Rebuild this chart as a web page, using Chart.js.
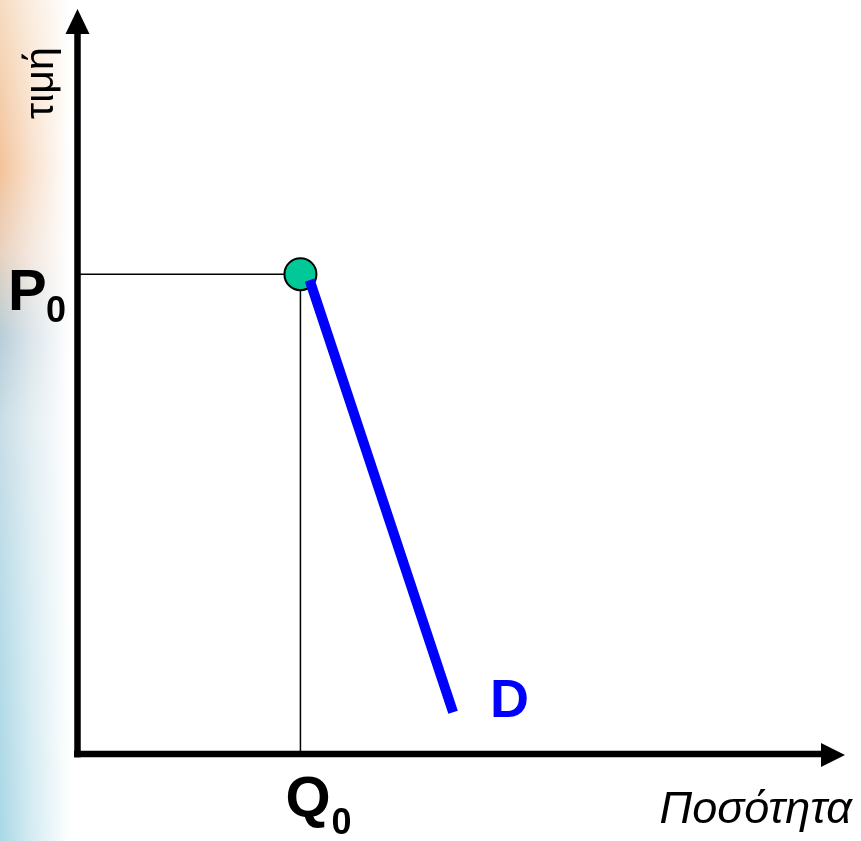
<!DOCTYPE html>
<html>
<head>
<meta charset="utf-8">
<script src="https://cdn.jsdelivr.net/npm/chart.js@4/dist/chart.umd.min.js"></script>
<style>
  html, body { margin: 0; padding: 0; background: #fff; }
  #wrap { width: 861px; height: 841px; }
</style>
</head>
<body>
<div id="wrap"><canvas id="demandChart" width="861" height="841"></canvas></div>
<script>
// equilibrium point
const quantity = [29];
const price = [64.4];
// demand curve end points
const demandQ = [30.2, 48.9];
const demandP = [63.6, 5.6];
// texts
const axisTitles = ['Ποσότητα', 'τιμή'];
const pointLabels = ['P', 'Q'];
const subLabel = '0';
const curveLabel = 'D';

const FONT = '"Liberation Sans", Arial, sans-serif';

// slide background strip on the left
const bgPlugin = {
    id: 'bg',
    beforeDraw(chart) {
        const ctx = chart.ctx;
        const h = chart.height;
        ctx.save();
        let g = ctx.createLinearGradient(0, 0, 0, h);
        g.addColorStop(0, '#f6dcc2');
        g.addColorStop(0.2, '#f3c39a');
        g.addColorStop(0.3, '#e9d2c0');
        g.addColorStop(0.4, '#b8cdd8');
        g.addColorStop(0.5, '#c9dde6');
        g.addColorStop(0.7, '#b9dce8');
        g.addColorStop(1, '#a9d8e6');
        ctx.fillStyle = g;
        ctx.fillRect(0, 0, 70, h);
        let w = ctx.createLinearGradient(0, 0, 70, 0);
        w.addColorStop(0, 'rgba(255,255,255,0)');
        w.addColorStop(0.45, 'rgba(255,255,255,0.5)');
        w.addColorStop(1, 'rgba(255,255,255,1)');
        ctx.fillStyle = w;
        ctx.fillRect(0, 0, 71, h);
        ctx.restore();
    }
};

// axes with arrow heads and the labels
const axesPlugin = {
    id: 'axes',
    afterDatasetsDraw(chart) {
        const ctx = chart.ctx;
        const xs = chart.scales.x, ys = chart.scales.y;
        const x0 = xs.getPixelForValue(0) - 0.5;
        const y0 = ys.getPixelForValue(0);
        const top = ys.getPixelForValue(ys.max);
        const right = xs.getPixelForValue(xs.max);
        ctx.save();
        ctx.fillStyle = '#000';
        ctx.strokeStyle = '#000';
        ctx.lineWidth = 6.5;
        ctx.beginPath();
        ctx.moveTo(x0, y0 + 3.5);
        ctx.lineTo(x0, top + 24);
        ctx.moveTo(x0 - 3.5, y0);
        ctx.lineTo(right - 23, y0);
        ctx.stroke();
        // arrow heads
        ctx.beginPath();
        ctx.moveTo(x0, top);
        ctx.lineTo(x0 + 12, top + 25);
        ctx.lineTo(x0 - 12, top + 25);
        ctx.closePath();
        ctx.fill();
        ctx.beginPath();
        ctx.moveTo(right, y0 + 1);
        ctx.lineTo(right - 24, y0 + 13);
        ctx.lineTo(right - 24, y0 - 11);
        ctx.closePath();
        ctx.fill();

        // P0 and Q0
        const py = ys.getPixelForValue(price[0]);
        const qx = xs.getPixelForValue(quantity[0]);
        ctx.textBaseline = 'alphabetic';
        ctx.textAlign = 'left';
        ctx.font = 'bold 58px ' + FONT;
        ctx.fillText(pointLabels[0], 8, py + 36);
        ctx.font = 'bold 36px ' + FONT;
        ctx.fillText(subLabel, 46, py + 48);
        ctx.font = 'bold 58px ' + FONT;
        ctx.fillText(pointLabels[1], qx - 15, y0 + 63);
        ctx.font = 'bold 36px ' + FONT;
        ctx.fillText(subLabel, qx + 31, y0 + 80);

        // D
        const dx = xs.getPixelForValue(demandQ[1]);
        const dy = ys.getPixelForValue(demandP[1]);
        ctx.fillStyle = '#0000ff';
        ctx.font = 'bold 54px ' + FONT;
        ctx.fillText(curveLabel, dx + 37, dy + 5);

        // axis titles
        ctx.fillStyle = '#000';
        ctx.font = 'italic 45px ' + FONT;
        ctx.textAlign = 'right';
        ctx.fillText(axisTitles[0], 852, y0 + 69);
        ctx.translate(53, 119);
        ctx.rotate(-Math.PI / 2);
        ctx.textAlign = 'left';
        ctx.font = '41px ' + FONT;
        ctx.fillText(axisTitles[1], 0, 0);
        ctx.restore();
    }
};

const guideData = [
    { x: 0, y: price[0] },
    { x: quantity[0], y: price[0] },
    { x: quantity[0], y: 0 }
];

const data = {
    datasets: [
        {
            label: 'D',
            data: demandQ.map((q, i) => ({ x: q, y: demandP[i] })),
            borderColor: '#0000ff',
            borderWidth: 10,
            borderCapStyle: 'butt',
            pointRadius: 0,
            showLine: true,
            fill: false
        },
        {
            label: 'equilibrium',
            data: quantity.map((q, i) => ({ x: q, y: price[i] })),
            backgroundColor: '#00c896',
            borderColor: '#000',
            borderWidth: 2,
            pointRadius: 16,
            showLine: false
        },
        {
            label: 'guides',
            data: guideData,
            borderColor: '#000',
            borderWidth: 1.5,
            pointRadius: 0,
            showLine: true,
            fill: false
        }
    ]
};

const config = {
    type: 'scatter',
    data,
    options: {
        responsive: false,
        animation: false,
        layout: { autoPadding: false, padding: { left: 78, right: 16, top: 9, bottom: 87 } },
        plugins: { legend: { display: false }, tooltip: { enabled: false } },
        scales: {
            x: { type: 'linear', min: 0, max: 100, display: false },
            y: { type: 'linear', min: 0, max: 100, display: false }
        }
    },
    plugins: [bgPlugin, axesPlugin]
};

var myChart = new Chart(document.getElementById('demandChart'), config);
</script>
</body>
</html>
